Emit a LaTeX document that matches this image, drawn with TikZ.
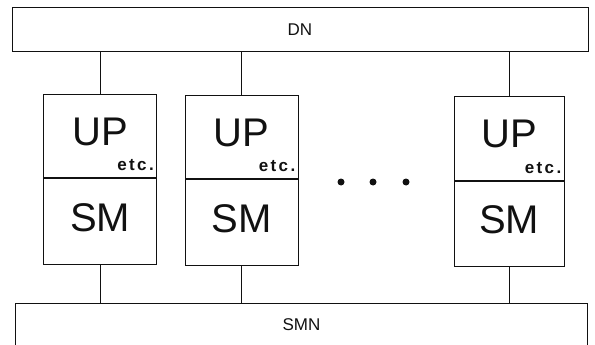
\documentclass[tikz,border=0pt]{standalone}
\usepackage{fontspec}
\setmainfont{Liberation Sans}
\newfontfamily\etcfont[LetterSpace=14]{Liberation Sans}
\usetikzlibrary{positioning,calc}
\definecolor{inkc}{HTML}{111111}
\tikzset{
  bus/.style  ={draw=inkc,line width=1pt,inner sep=0pt,text=inkc,
                font=\fontsize{17}{17}\selectfont},
  upb/.style  ={draw=inkc,line width=1pt,inner sep=0pt,text=inkc,
                minimum width=113pt,minimum height=82pt,text depth=9pt,
                font=\fontsize{40}{40}\selectfont},
  smb/.style  ={upb,minimum height=86pt,text depth=7pt},
  etcl/.style ={font=\etcfont\bfseries\fontsize{17}{17}\selectfont,inner sep=0pt,text=inkc},
  ln/.style   ={draw=inkc,line width=1pt},
  dotn/.style ={circle,fill=inkc,inner sep=0pt,minimum size=7pt},
}
\begin{document}
\begin{tikzpicture}[x=1pt,y=-1pt]
\useasboundingbox (0,0) rectangle (595,345);

% ============================ DN ========================================
\node[bus,minimum width=576pt,minimum height=44pt] (dn) at (300,30) {DN};

% ============================ UP / SM units =============================
\node[upb] (up1) at (100,136) {UP};
\node[smb,below=0pt of up1] (sm1) {SM};
\node[upb] (up2) at (241.5,137) {UP};
\node[smb,below=0pt of up2] (sm2) {SM};
\node[upb,minimum width=110pt,minimum height=83pt] (up3) at (509,138.5) {UP};
\node[smb,minimum width=110pt,minimum height=85pt,below=0pt of up3] (sm3) {SM};
\node[etcl,anchor=base east] (etc1) at ($(up1.south east)+(-3,-7)$) {etc.};
\node[etcl,anchor=base east] (etc2) at ($(up2.south east)+(-3,-7)$) {etc.};
\node[etcl,anchor=base east] (etc3) at ($(up3.south east)+(-3,-7)$) {etc.};
\foreach \x [count=\i] in {341,373,406} \node[dotn] (dot\i) at (\x,182) {};

% ============================ SMN =======================================
\node[bus,draw=none,minimum width=571pt,minimum height=41pt] (smn) at (301.5,324.5) {SMN};
\draw[ln] (smn.south west) |- (smn.north east) -- (smn.south east);

\foreach \u/\s in {up1/sm1,up2/sm2,up3/sm3}{
  \draw[ln] (\u.north) -- (\u.north |- dn.south);
  \draw[ln] (\s.south) -- (\s.south |- smn.north);
}
\end{tikzpicture}
\end{document}
